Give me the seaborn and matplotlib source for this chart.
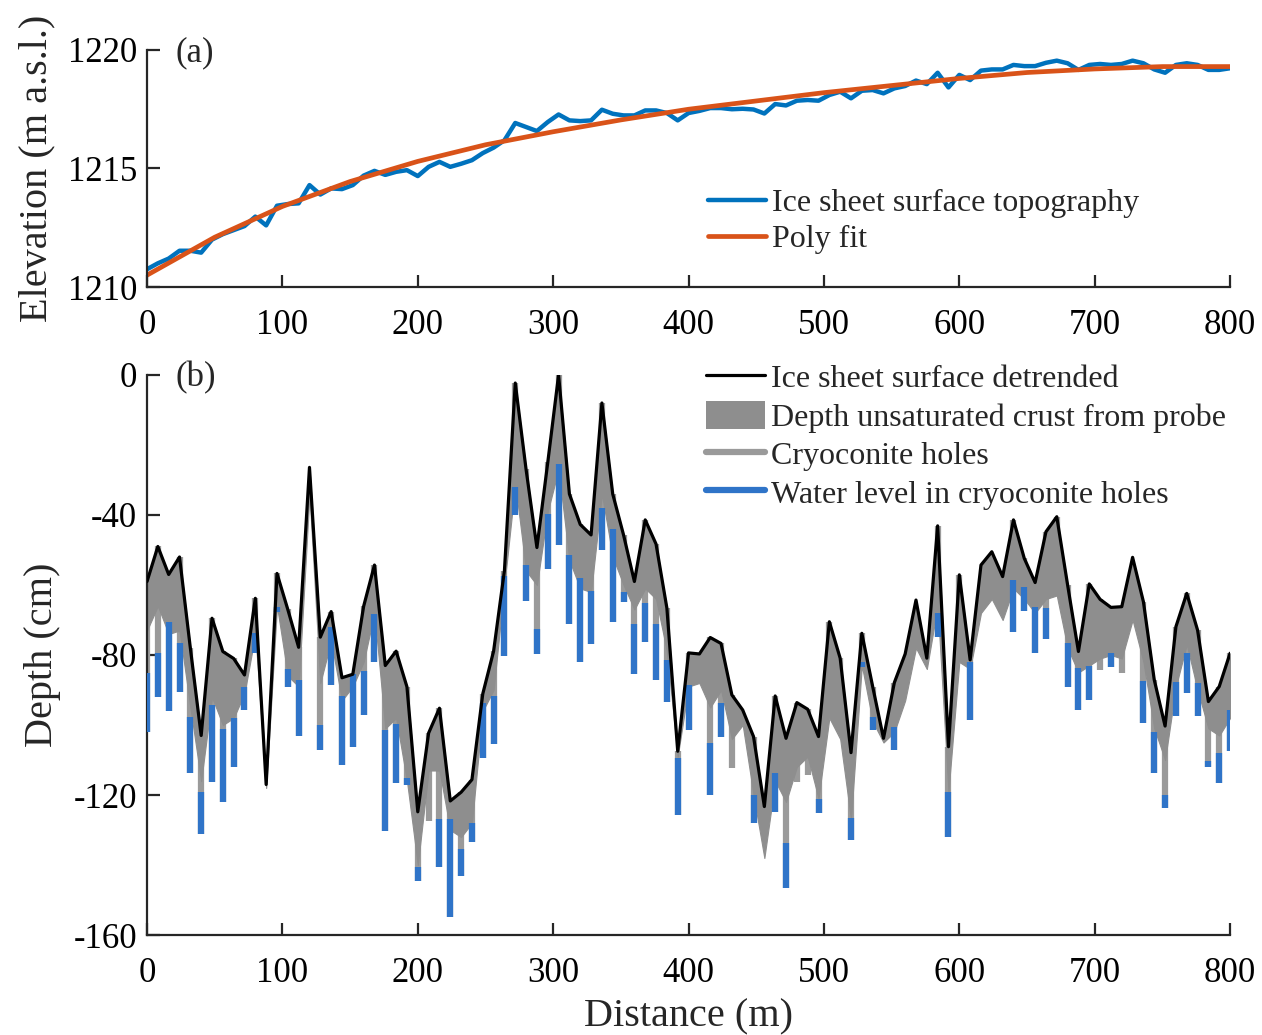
import numpy as np
import seaborn as sns
import matplotlib
matplotlib.use("Agg")
import matplotlib.pyplot as plt
from matplotlib.lines import Line2D
from matplotlib.patches import Patch

nan = np.nan

# survey stations along the transect, every 8 m (m)
dist = np.arange(0, 801, 8)

# (a) ice sheet surface elevation at each station (m a.s.l.)
elevation = [1210.75, 1211.0, 1211.2, 1211.53, 1211.53, 1211.45, 1212.0, 1212.23, 1212.4, 1212.57,
             1212.97, 1212.6, 1213.43, 1213.5, 1213.53, 1214.3, 1213.9, 1214.16, 1214.13, 1214.3,
             1214.7, 1214.9, 1214.73, 1214.86, 1214.93, 1214.68, 1215.07, 1215.28, 1215.07, 1215.2,
             1215.35, 1215.65, 1215.88, 1216.19, 1216.92, 1216.75, 1216.58, 1216.96, 1217.28, 1217.03,
             1217.0, 1217.03, 1217.48, 1217.31, 1217.24, 1217.24, 1217.45, 1217.45, 1217.34, 1217.03,
             1217.34, 1217.43, 1217.55, 1217.55, 1217.5, 1217.52, 1217.49, 1217.32, 1217.72, 1217.66,
             1217.86, 1217.89, 1217.86, 1218.1, 1218.24, 1217.96, 1218.28, 1218.31, 1218.17, 1218.38,
             1218.48, 1218.71, 1218.56, 1219.04, 1218.42, 1218.95, 1218.73, 1219.13, 1219.18, 1219.18,
             1219.37, 1219.32, 1219.32, 1219.46, 1219.55, 1219.44, 1219.16, 1219.37, 1219.41, 1219.37,
             1219.41, 1219.55, 1219.44, 1219.18, 1219.04, 1219.37, 1219.44, 1219.37, 1219.16, 1219.16,
             1219.23]

# polynomial fit, read every 50 m
fit_dist = [0, 50, 100, 150, 200, 250, 300, 350, 400, 450, 500, 550, 600, 650, 700, 750, 800]
fit_elev = [1210.5, 1212.1, 1213.4, 1214.45, 1215.3, 1216.0, 1216.55, 1217.05, 1217.5,
             1217.85, 1218.2, 1218.5, 1218.8, 1219.05, 1219.2, 1219.3, 1219.3]

# (b) detrended surface (cm)
surface = [-59, -49, -57, -52, -78, -103, -69.5, -79, -81, -85.7,
           -63.8, -117, -56.7, -67, -77.8, -26.4, -74.9, -67.6, -86.5, -85.5,
           -66.1, -54.3, -83, -78.9, -89.1, -124.8, -102.3, -95.2, -121.7, -119.2,
           -115.6, -91.1, -78.9, -55.9, -2.3, -27, -49.3, -25, 0, -34,
           -42.7, -45.7, -8, -34, -45.7, -59, -41.4, -48.3, -66.6, -107.5,
           -79.4, -79.7, -75, -76.7, -91.4, -95.7, -103.3, -123.3, -91.7, -103.8,
           -93.6, -95.5, -103.3, -70.5, -80.9, -107.9, -73.8, -89, -103.8, -87.9,
           -79.7, -64.3, -80.9, -43.1, -106.2, -57.1, -81.4, -54.3, -50.5, -57.6,
           -41.4, -52.4, -59.3, -44.8, -40.5, -60, -79, -59.7, -64.1, -66.4,
           -66.2, -52.1, -64.8, -87.1, -100.3, -71.9, -62.4, -72.9, -93.3, -89,
           -79.5]

# depth of the unsaturated crust from the probe (cm)
crust = [-73, -66, -74, -73, -95, -116, -92, -100, -98, -91,
         -74, -118, -66, -86, -89, -34, -88, -76, -93, -89,
         -82, -68, -101, -98, -116, -140, -113, -113, -130, -132,
         -128, -96, -90, -60, -31, -56, -60, -39, -27, -53,
         -61, -62, -34, -52, -60, -67, -61, -64, -79, -109,
         -89, -88, -95, -90, -104, -100, -120, -138, -116, -122,
         -112, -109, -121, -98, -104, -127, -83, -99, -105, -102,
         -93, -78, -84, -66, -119, -82, -84, -68, -64, -70,
         -61, -64, -68, -64, -63, -78, -85, -83, -81, -80,
         -81, -70, -82, -101, -110, -89, -77, -90, -101, -103,
         -98]

# cryoconite hole bottoms (cm), nan = no hole
hole_bottom = [-102, -92, -96, -90.5, -113.8, -131, -116.2, -122, -112, -95.7,
               -79.5, nan, -67.6, -89, -103, nan, -107, -88.6, -111.5, -106.4,
               -97.2, -81.9, -130.4, -116.6, -117.1, -144.7, -127.3, -140.6, -154.9, -143.2,
               -133.5, -109.5, -105.4, -80.4, -40.1, -64.6, -79.6, -55.4, -48.6, -71.2,
               -81.9, -76.8, -50, -70.7, -64.9, -85.3, -76.3, -87, -93.5, -125.8,
               -101.4, nan, -120, -103.3, -112.4, nan, -128.1, nan, -124.8, -146.7,
               -116.2, -114.3, -125.2, -96.2, -102, -132.9, -83.5, -101.4, nan, -107.1,
               nan, nan, nan, -74.8, -131.9, -80, -98.6, nan, nan, nan,
               -73.3, -67.3, -79.3, -75.5, -60.5, -89.2, -95.7, -92.9, -84.3, -83.3,
               -85, nan, -99.3, -113.8, -123.8, -97.4, -90.9, -97.4, -111.9, -116.5,
               -107.3]

# water level in the cryoconite holes (cm), nan = dry / no hole
water_level = [-85, -79.5, -70.5, -76.6, -97.6, -119, -94.3, -101, -98, -89,
               -73.8, nan, -66.2, -84, -87, nan, -100, -72, -91.6, -85.5,
               -84.5, -68.2, -101.3, -99.8, -115.1, -140.6, nan, -126.8, -126.8, -135.5,
               -127.9, -93.7, -91.6, -57.5, -31.9, -54.4, -72.7, -39.6, -25.3, -51.3,
               -58, -61.8, -38.1, -43.9, -61.9, -71.2, -65.1, -71.2, -81.4, -109.5,
               -88.6, nan, -105.2, -93.6, nan, nan, -120, nan, -113.8, -133.8,
               nan, nan, -121.2, nan, nan, -126.7, -81.9, -97.6, nan, -100.5,
               nan, nan, nan, -68.1, -119, nan, -81.9, nan, nan, nan,
               -58.6, -60.5, -66.2, -66.7, nan, -76.5, -83.8, -83.1, nan, -79.3,
               nan, nan, -87.3, -102.1, -120, -87.6, -79.3, -87.9, -110.3, -107.9,
               -95.7]

surface = np.array(surface)
hole_bottom = np.array(hole_bottom)
water_level = np.array(water_level)

sns.set_theme(style="ticks")
plt.rcParams["font.family"] = ["Liberation Serif", "DejaVu Serif"]
plt.rcParams["axes.unicode_minus"] = False

c_topo = "#0072BD"
c_fit = "#D95319"
c_fill = "#8e8e8e"
c_hole = "#9a9a9a"
c_water = "#2f74c8"

fig = plt.figure(figsize=(12.62, 10.35), dpi=100)
ax1 = fig.add_axes([0.1165, 0.7227, 0.8582, 0.229])
ax2 = fig.add_axes([0.1165, 0.0966, 0.8582, 0.5411])

# (a) topography + poly fit
sns.lineplot(x=dist, y=elevation, ax=ax1, color=c_topo, lw=3.2,
             label="Ice sheet surface topography")
sns.lineplot(x=fit_dist, y=fit_elev, ax=ax1, color=c_fit, lw=3.4, label="Poly fit")
ax1.set_xlim(0, 800)
ax1.set_ylim(1210, 1220)
ax1.set_yticks([1210, 1215, 1220])
ax1.set_xticks(range(0, 801, 100))
ax1.set_ylabel("Elevation (m a.s.l.)", fontsize=29, labelpad=9)
ax1.legend(loc="center left", bbox_to_anchor=(0.518, 0.277), frameon=False,
           fontsize=23, handlelength=1.8, handletextpad=0.2, labelspacing=0.22,
           borderaxespad=0, borderpad=0)
ax1.text(0.026, 0.987, "(a)", transform=ax1.transAxes, fontsize=25, va="center")

# (b) holes first, crust fill over them, water and surface on top
m = ~np.isnan(hole_bottom)
ax2.vlines(dist[m], hole_bottom[m], surface[m], color=c_hole, lw=4.5, zorder=1,
           capstyle="butt")
ax2.fill_between(dist, crust, surface, color=c_fill, lw=0.8, edgecolor=c_fill, zorder=2)
w = ~np.isnan(water_level)
ax2.vlines(dist[w], hole_bottom[w], water_level[w], color=c_water, lw=4.5, zorder=3,
           capstyle="butt")
sns.lineplot(x=dist, y=surface, ax=ax2, color="black", lw=2.3, zorder=4)
ax2.set_xlim(0, 800)
ax2.set_ylim(-160, 0)
ax2.set_yticks([0, -40, -80, -120, -160])
ax2.set_xticks(range(0, 801, 100))
ax2.set_ylabel("Depth (cm)", fontsize=29, labelpad=9)
ax2.set_xlabel("Distance (m)", fontsize=29, labelpad=6)
handles = [Line2D([], [], color="black", lw=2.3),
           Patch(facecolor=c_fill, edgecolor="none"),
           Line2D([], [], color=c_hole, lw=4.5),
           Line2D([], [], color=c_water, lw=4.5)]
labels = ["Ice sheet surface detrended", "Depth unsaturated crust from probe",
          "Cryoconite holes", "Water level in cryoconite holes"]
ax2.legend(handles, labels, loc="center left", bbox_to_anchor=(0.516, 0.891),
           frameon=False, fontsize=23, handlelength=1.85, handletextpad=0.2,
           handleheight=1.0, labelspacing=0.2, borderaxespad=0, borderpad=0)
ax2.text(0.026, 0.995, "(b)", transform=ax2.transAxes, fontsize=25, va="center")

for ax in (ax1, ax2):
    for side in ("top", "right"):
        ax.spines[side].set_visible(False)
    for side in ("left", "bottom"):
        ax.spines[side].set_linewidth(1.6)
        ax.spines[side].set_color("#262626")
    ax.tick_params(direction="in", length=9, width=1.6, labelsize=25, pad=7,
                   colors="#262626", labelcolor="black")
    ax.tick_params(axis="x", pad=16)

fig.savefig("out.png", dpi=100)
